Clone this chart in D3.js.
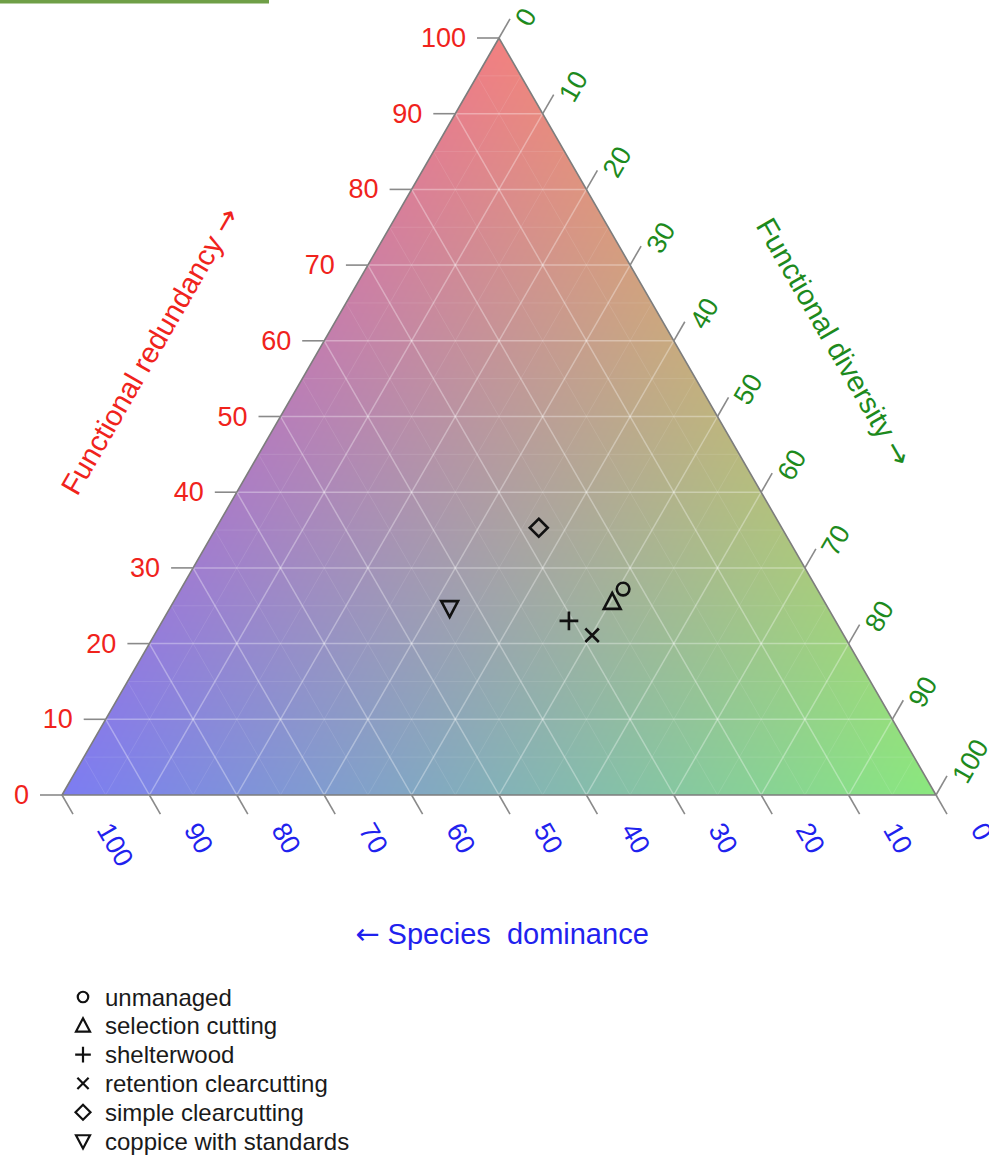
<!DOCTYPE html>
<html>
<head>
<meta charset="utf-8">
<script src="https://cdn.jsdelivr.net/npm/d3@7"></script>
<style>
  html, body { margin: 0; padding: 0; background: #fff; }
  svg { display: block; font-family: "Liberation Sans", Arial, sans-serif; }
  .arrow { font-family: "DejaVu Sans", sans-serif; }
</style>
</head>
<body>
<svg id="chart" width="989" height="1157"></svg>
<script>
// Management treatments and their ternary composition (percent)
const treatments = ["unmanaged", "selection cutting", "shelterwood",
                    "retention clearcutting", "simple clearcutting", "coppice with standards"];
const symbols    = ["circle", "triangle", "plus", "cross", "diamond", "triangleDown"];
const redundancy = [27.2, 25.5, 23.0, 21.1, 35.3, 24.7];   // Functional redundancy
const diversity  = [50.6, 50.2, 46.5, 50.1, 36.9, 32.0];   // Functional diversity
const dominance  = [22.2, 24.3, 30.5, 28.8, 27.8, 43.3];   // Species dominance

const tickValues = [0, 10, 20, 30, 40, 50, 60, 70, 80, 90, 100];

const axisColors = { redundancy: "#f0231c", diversity: "#1d8a1d", dominance: "#1f22ee" };

// vertex tints for the background wash
const tintRed   = [242, 128, 128];
const tintGreen = [138, 232, 126];
const tintBlue  = [124, 124, 242];

const svg = d3.select("#chart");

// top decorative bar
svg.append("rect").attr("x", 0).attr("y", 0).attr("width", 269).attr("height", 3.5)
  .attr("fill", "#6f9f47");

// Ternary projection: y from redundancy, x from diversity + redundancy/2
const yScale = d3.scaleLinear().domain([0, 100]).range([795, 38]);
const xScale = d3.scaleLinear().domain([0, 100]).range([62, 936]);
function project(r, d) { return [xScale(d + r / 2), yScale(r)]; }

const vTop = project(100, 0), vBL = project(0, 0), vBR = project(0, 100);

// Background colour wash, computed per pixel on a canvas
(function drawWash() {
  const x0 = Math.floor(vBL[0]), x1 = Math.ceil(vBR[0]);
  const y0 = Math.floor(vTop[1]), y1 = Math.ceil(vBL[1]);
  const w = x1 - x0 + 1, h = y1 - y0 + 1;
  const cv = document.createElement("canvas");
  cv.width = w; cv.height = h;
  const ctx = cv.getContext("2d");
  const img = ctx.createImageData(w, h);
  for (let j = 0; j < h; j++) {
    const py = y0 + j + 0.5;
    const r = yScale.invert(py) / 100;
    for (let i = 0; i < w; i++) {
      const px = x0 + i + 0.5;
      const d = xScale.invert(px) / 100 - r / 2;
      let rr = Math.max(0, Math.min(1, r));
      let dd = Math.max(0, Math.min(1, d));
      let ss = Math.max(0, 1 - rr - dd);
      const t = rr + dd + ss;
      rr /= t; dd /= t; ss /= t;
      const k = (j * w + i) * 4;
      for (let c = 0; c < 3; c++)
        img.data[k + c] = Math.round(rr * tintRed[c] + dd * tintGreen[c] + ss * tintBlue[c]);
      img.data[k + 3] = 255;
    }
  }
  ctx.putImageData(img, 0, 0);
  svg.append("clipPath").attr("id", "triClip")
    .append("polygon").attr("points", [vTop, vBL, vBR].map(p => p.join(",")).join(" "));
  svg.append("image").attr("x", x0).attr("y", y0).attr("width", w).attr("height", h)
    .attr("href", cv.toDataURL()).attr("clip-path", "url(#triClip)");
})();

// Grid lines
const grid = svg.append("g").attr("fill", "none");
const minor = d3.range(5, 100, 10), major = d3.range(10, 100, 10);
function gridLines(vals, opacity, width) {
  vals.forEach(k => {
    const segs = [
      [project(k, 0), project(k, 100 - k)],          // constant redundancy
      [project(0, k), project(100 - k, k)],          // constant diversity
      [project(0, 100 - k), project(100 - k, 0)]     // constant dominance
    ];
    segs.forEach(s => grid.append("line")
      .attr("x1", s[0][0]).attr("y1", s[0][1]).attr("x2", s[1][0]).attr("y2", s[1][1])
      .attr("stroke", "#ffffff").attr("stroke-opacity", opacity).attr("stroke-width", width));
  });
}
gridLines(minor, 0.1, 1);
gridLines(major, 0.33, 1.5);

// Triangle outline
svg.append("polygon").attr("points", [vTop, vBL, vBR].map(p => p.join(",")).join(" "))
  .attr("fill", "none").attr("stroke", "#7d7d7d").attr("stroke-width", 1.6);

// Axes: ticks and labels
const tickLen = 22, fontTick = 27;
const axes = svg.append("g").attr("font-size", fontTick);
const c60 = 0.5, s60 = Math.sqrt(3) / 2;

// left axis (redundancy)
tickValues.forEach(v => {
  const p = project(v, 0);
  axes.append("line").attr("x1", p[0]).attr("y1", p[1]).attr("x2", p[0] - tickLen).attr("y2", p[1])
    .attr("stroke", "#8a8a8a").attr("stroke-width", 1.6);
  axes.append("text").attr("x", p[0] - tickLen - 11).attr("y", p[1])
    .attr("text-anchor", "end").attr("dominant-baseline", "central")
    .attr("fill", axisColors.redundancy).text(v);
});

// right axis (diversity)
tickValues.forEach(v => {
  const p = project(100 - v, v);
  const u = [c60, -s60], n = [s60, c60];
  axes.append("line").attr("x1", p[0]).attr("y1", p[1])
    .attr("x2", p[0] + u[0] * tickLen).attr("y2", p[1] + u[1] * tickLen)
    .attr("stroke", "#8a8a8a").attr("stroke-width", 1.6);
  const t = axes.append("text").attr("text-anchor", "middle").attr("dominant-baseline", "central")
    .attr("fill", axisColors.diversity).text(v);
  const w = t.node().getComputedTextLength();
  const a = 24 + w / 2, b = 13;
  const cx = p[0] + u[0] * a + n[0] * b, cy = p[1] + u[1] * a + n[1] * b;
  t.attr("transform", `translate(${cx},${cy}) rotate(-60)`);
});

// bottom axis (dominance)
tickValues.forEach(v => {
  const p = project(0, 100 - v);
  const u = [c60, s60], n = [s60, -c60];
  axes.append("line").attr("x1", p[0]).attr("y1", p[1])
    .attr("x2", p[0] + u[0] * tickLen).attr("y2", p[1] + u[1] * tickLen)
    .attr("stroke", "#8a8a8a").attr("stroke-width", 1.6);
  const t = axes.append("text").attr("text-anchor", "middle").attr("dominant-baseline", "central")
    .attr("fill", axisColors.dominance).text(v);
  const w = t.node().getComputedTextLength();
  const a = 47 + w / 2, b = 21;
  const cx = p[0] + u[0] * a + n[0] * b, cy = p[1] + u[1] * a + n[1] * b;
  t.attr("transform", `translate(${cx},${cy}) rotate(60)`);
});

// Axis titles (arrows set in a font with a long arrow glyph)
const titles = svg.append("g").attr("font-size", 29).attr("text-anchor", "middle")
  .attr("dominant-baseline", "central");
const tRed = titles.append("text").attr("transform", "translate(150,351) rotate(-60)")
  .attr("fill", axisColors.redundancy);
tRed.append("tspan").text("Functional redundancy ");
tRed.append("tspan").attr("class", "arrow").text("\u2192");
const tGreen = titles.append("text").attr("transform", "translate(834,342) rotate(60)")
  .attr("fill", axisColors.diversity);
tGreen.append("tspan").text("Functional diversity ");
tGreen.append("tspan").attr("class", "arrow").text("\u2192");
const tBlue = titles.append("text").attr("transform", "translate(502,934)")
  .attr("fill", axisColors.dominance);
tBlue.append("tspan").attr("class", "arrow").text("\u2190");
tBlue.append("tspan").text(" Species\u00a0 dominance");

// Marker shapes (outline style)
function markerPath(type, s) {
  const h = s / 2;
  switch (type) {
    case "triangle": return `M0,${-h * 1.2}L${h * 1.12},${h * 0.92}L${-h * 1.12},${h * 0.92}Z`;
    case "triangleDown": return `M0,${h * 1.2}L${h * 1.12},${-h * 0.92}L${-h * 1.12},${-h * 0.92}Z`;
    case "plus": return `M${-h * 1.25},0L${h * 1.25},0M0,${-h * 1.25}L0,${h * 1.25}`;
    case "cross": return `M${-h * 0.9},${-h * 0.9}L${h * 0.9},${h * 0.9}M${h * 0.9},${-h * 0.9}L${-h * 0.9},${h * 0.9}`;
    case "diamond": return `M0,${-h * 1.2}L${h * 1.2},0L0,${h * 1.2}L${-h * 1.2},0Z`;
  }
}
function drawMarker(g, type, x, y, s, sw) {
  if (type === "circle") {
    g.append("circle").attr("cx", x).attr("cy", y).attr("r", s * 0.42)
      .attr("fill", "none").attr("stroke", "#111").attr("stroke-width", sw);
  } else {
    g.append("path").attr("d", markerPath(type, s)).attr("transform", `translate(${x},${y})`)
      .attr("fill", "none").attr("stroke", "#111").attr("stroke-width", sw)
      .attr("stroke-linejoin", "miter");
  }
}

// Data points
const pts = svg.append("g");
treatments.forEach((name, i) => {
  const p = project(redundancy[i], diversity[i]);
  drawMarker(pts, symbols[i], p[0], p[1], 15, 2.6);
});

// Legend
const legend = svg.append("g").attr("font-size", 24);
treatments.forEach((name, i) => {
  const y = 997 + i * 28.8;
  drawMarker(legend, symbols[i], 83, y, 12.5, 2.2);
  legend.append("text").attr("x", 105).attr("y", y).attr("dominant-baseline", "central")
    .attr("fill", "#1a1a1a").text(name);
});
</script>
</body>
</html>
